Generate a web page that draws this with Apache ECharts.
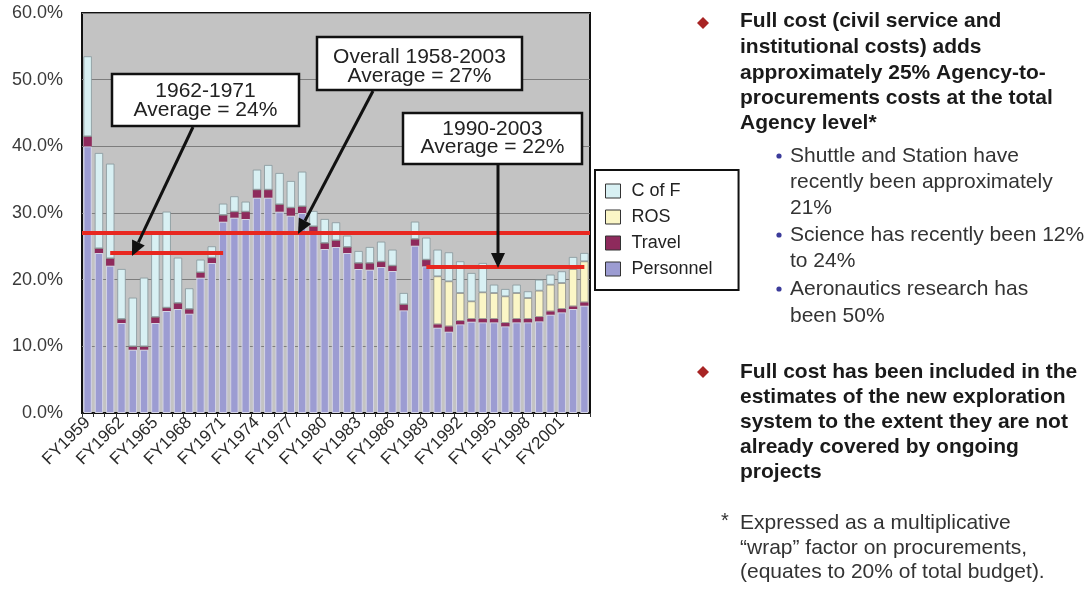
<!DOCTYPE html>
<html>
<head>
<meta charset="utf-8">
<script src="https://cdn.jsdelivr.net/npm/echarts@6/dist/echarts.min.js"></script>
<style>
  html, body { margin: 0; padding: 0; background: #fff; }
  #chart { width: 1090px; height: 592px; }
</style>
</head>
<body>
<div id="chart"></div>
<script>
// Fiscal years on the category axis
const years = ['FY1959','FY1960','FY1961','FY1962','FY1963','FY1964','FY1965','FY1966','FY1967','FY1968',
  'FY1969','FY1970','FY1971','FY1972','FY1973','FY1974','FY1975','FY1976','FY1977','FY1978',
  'FY1979','FY1980','FY1981','FY1982','FY1983','FY1984','FY1985','FY1986','FY1987','FY1988',
  'FY1989','FY1990','FY1991','FY1992','FY1993','FY1994','FY1995','FY1996','FY1997','FY1998',
  'FY1999','FY2000','FY2001','FY2002','FY2003'];

// Cost components, percent of procurements
const personnel = [40.0, 24.0, 22.1, 13.5, 9.5, 9.5, 13.5, 15.3, 15.6, 14.9,
  20.3, 22.5, 28.7, 29.3, 29.1, 32.3, 32.3, 30.2, 29.6, 30.0,
  27.2, 24.6, 24.9, 24.0, 21.6, 21.5, 21.9, 21.3, 15.4, 25.1,
  22.0, 12.8, 12.2, 13.3, 13.7, 13.6, 13.6, 13.0, 13.6, 13.6,
  13.75, 14.75, 15.1, 15.6, 16.1];
const travel = [1.5, 0.7, 1.1, 0.6, 0.5, 0.5, 0.9, 0.5, 0.9, 0.7,
  0.8, 0.8, 1.0, 0.9, 1.1, 1.2, 1.2, 1.1, 1.2, 1.0,
  0.8, 0.9, 1.0, 0.9, 0.9, 1.0, 0.8, 0.8, 0.9, 1.0,
  1.0, 0.5, 0.8, 0.5, 0.4, 0.5, 0.5, 0.5, 0.5, 0.5,
  0.65, 0.5, 0.5, 0.4, 0.5];
const ros = [0, 0, 0, 0, 0, 0, 0, 0, 0, 0,
  0, 0, 0, 0, 0, 0, 0, 0, 0, 0,
  0, 0, 0, 0, 0, 0, 0, 0, 0, 0,
  0, 7.2, 6.75, 4.2, 2.65, 4.0, 3.9, 4.0, 3.9, 3.15,
  3.95, 4.0, 3.9, 5.6, 6.15];
const cofF = [12.0, 14.3, 14.2, 7.5, 7.3, 10.3, 12.8, 14.4, 6.8, 3.1,
  1.9, 1.7, 1.7, 2.3, 1.5, 3.0, 3.7, 4.7, 4.0, 5.2,
  2.3, 3.6, 2.7, 1.7, 1.8, 2.4, 3.0, 2.4, 1.7, 2.6,
  3.3, 4.0, 4.35, 4.75, 4.25, 4.4, 1.25, 1.1, 1.25, 1.0,
  1.65, 1.5, 1.75, 1.8, 1.25];

// Period averages drawn as red rules
const periodTitles = ['Overall 1958-2003', '1962-1971', '1990-2003'];
const periodAverages = [27, 24, 22];
const periodFrom = [null, 'FY1961', 'FY1989'];
const periodTo = [null, 'FY1971', 'FY2003'];

// Y axis tick values
const yTicks = [0, 10, 20, 30, 40, 50, 60];

// Bullet text on the right
const bullet1 = ['Full cost (civil service and', 'institutional costs) adds',
  'approximately 25% Agency-to-', 'procurements costs at the total', 'Agency level*'];
const subBullets = [
  ['Shuttle and Station have', 'recently been approximately', '21%'],
  ['Science has recently been 12%', 'to 24%'],
  ['Aeronautics research has', 'been 50%']
];
const bullet2 = ['Full cost has been included in the', 'estimates of the new exploration',
  'system to the extent they are not', 'already covered by ongoing', 'projects'];
const footnote = ['Expressed as a multiplicative', '\u201Cwrap\u201D factor on procurements,',
  '(equates to 20% of total budget).'];

const SANS = "'Liberation Sans', Arial, sans-serif";

const chart = echarts.init(document.getElementById('chart'), null, { renderer: 'canvas' });

const g = [];
function text(x, y, str, size, weight, fill, align) {
  g.push({
    type: 'text', x: x, y: y, z: 100,
    style: {
      text: str, fill: fill || '#222', align: align || 'left', verticalAlign: 'middle',
      font: (weight || 'normal') + ' ' + size + 'px ' + SANS
    }
  });
}
function diamond(cx, cy, r, color) {
  g.push({ type: 'polygon', z: 100, shape: { points: [[cx, cy - r], [cx + r, cy], [cx, cy + r], [cx - r, cy]] },
    style: { fill: color } });
}
function dot(cx, cy, r, color) {
  g.push({ type: 'circle', z: 100, shape: { cx: cx, cy: cy, r: r }, style: { fill: color } });
}
function box(x, y, w, h, lines, lineY) {
  g.push({ type: 'rect', z: 100, shape: { x: x, y: y, width: w, height: h },
    style: { fill: '#fff', stroke: '#111', lineWidth: 2.5 } });
  lines.forEach(function (s, i) {
    g.push({ type: 'text', x: x + w / 2, y: lineY[i], z: 101,
      style: { text: s, fill: '#222', align: 'center', verticalAlign: 'middle', font: '21px ' + SANS } });
  });
}
function arrow(x0, y0, x1, y1) {
  const dx = x1 - x0, dy = y1 - y0, len = Math.sqrt(dx * dx + dy * dy);
  const ux = dx / len, uy = dy / len, hl = 15, hw = 7;
  const bx = x1 - ux * hl, by = y1 - uy * hl;
  g.push({ type: 'line', z: 100, shape: { x1: x0, y1: y0, x2: bx, y2: by },
    style: { stroke: '#111', lineWidth: 3 } });
  g.push({ type: 'polygon', z: 100,
    shape: { points: [[x1, y1], [bx - uy * hw, by + ux * hw], [bx + uy * hw, by - ux * hw]] },
    style: { fill: '#111' } });
}

// Callout boxes for the averages
box(112, 74, 187, 52, [periodTitles[1], 'Average = ' + periodAverages[1] + '%'], [91, 110]);
box(317, 37, 205, 53, [periodTitles[0], 'Average = ' + periodAverages[0] + '%'], [57, 76]);
box(403, 113, 179, 51, [periodTitles[2], 'Average = ' + periodAverages[2] + '%'], [129, 147]);
arrow(193, 127, 132, 256);
arrow(373, 91, 298, 234);
arrow(498, 165, 498, 268);

// Right-hand bullet list
diamond(703, 23, 6, '#a82424');
[21, 47, 73, 98, 123].forEach(function (y, i) { text(740, y, bullet1[i], 21, 'bold', '#1a1a1a'); });
const subY = [[156, 182, 208], [235, 261], [289, 316]];
subBullets.forEach(function (lines, k) {
  dot(779, subY[k][0], 2.6, '#3b3b9a');
  lines.forEach(function (s, i) { text(790, subY[k][i], s, 21, 'normal', '#333'); });
});
diamond(703, 372, 6, '#a82424');
[372, 397, 422, 447, 472].forEach(function (y, i) { text(740, y, bullet2[i], 21, 'bold', '#1a1a1a'); });
text(721, 521, '*', 20, 'normal', '#333');
[523, 548, 572].forEach(function (y, i) { text(740, y, footnote[i], 21, 'normal', '#333'); });

const avgLines = periodAverages.map(function (v, i) {
  if (!periodFrom[i]) return { yAxis: v };
  return [{ coord: [periodFrom[i], v] }, { coord: [periodTo[i], v] }];
});

const barBase = { type: 'bar', stack: 'cost', barCategoryGap: '26%' };
const option = {
  animation: false,
  backgroundColor: '#fff',
  grid: { left: 82, right: 500, top: 13, bottom: 179, show: true,
    backgroundColor: '#c3c3c3', borderColor: '#111', borderWidth: 2 },
  legend: {
    orient: 'vertical', left: 595, top: 170,
    data: ['C of F', 'ROS', 'Travel', 'Personnel'],
    icon: 'rect', itemWidth: 15, itemHeight: 14, itemGap: 8,
    padding: [12, 26, 12, 10],
    borderColor: '#111', borderWidth: 2, backgroundColor: '#fff',
    itemStyle: { borderColor: '#333', borderWidth: 1 },
    textStyle: { fontSize: 18, color: '#222', fontFamily: SANS, padding: [0, 0, 0, 6] }
  },
  xAxis: {
    type: 'category', data: years,
    axisLine: { show: true, lineStyle: { color: '#111', width: 2 } },
    axisTick: { show: true, interval: 0, length: 4, lineStyle: { color: '#333' } },
    axisLabel: { interval: 2, rotate: 45, fontSize: 17, color: '#2a2a2a', margin: 7, fontFamily: SANS }
  },
  yAxis: {
    type: 'value', min: yTicks[0], max: yTicks[yTicks.length - 1], interval: yTicks[1] - yTicks[0],
    axisLine: { show: false }, axisTick: { show: false },
    splitLine: { lineStyle: { color: '#7d7d7d', width: 1 } },
    axisLabel: { fontSize: 18, color: '#3a3a3a', margin: 19, fontFamily: SANS,
      formatter: function (v) { return v.toFixed(1) + '%'; } }
  },
  series: [
    Object.assign({ name: 'Personnel', data: personnel,
      itemStyle: { color: '#9c9cd2', borderColor: '#d4d4e4', borderWidth: 1 } }, barBase),
    Object.assign({ name: 'Travel', data: travel,
      itemStyle: { color: '#8e2a5c' } }, barBase),
    Object.assign({ name: 'ROS', data: ros,
      itemStyle: { color: '#fbf6c6', borderColor: '#8c8c86', borderWidth: 0.8 } }, barBase),
    Object.assign({ name: 'C of F', data: cofF,
      itemStyle: { color: '#d8f0f3', borderColor: '#86959a', borderWidth: 0.8 },
      markLine: { silent: true, symbol: 'none', label: { show: false },
        lineStyle: { color: '#e8271f', width: 4, type: 'solid' },
        data: avgLines } }, barBase)
  ],
  graphic: { elements: g }
};
chart.setOption(option);
</script>
</body>
</html>
